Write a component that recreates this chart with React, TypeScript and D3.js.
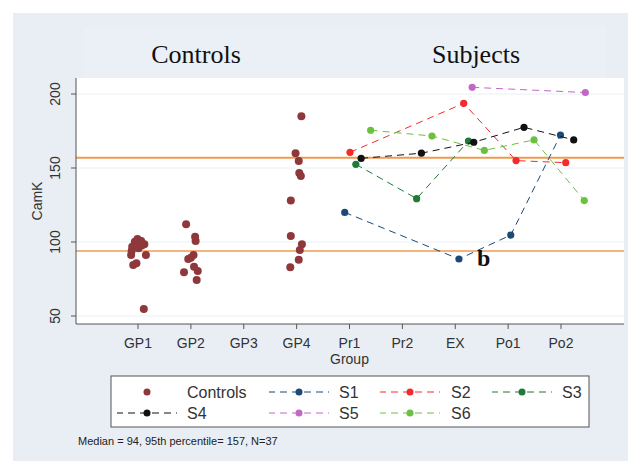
import React from 'react'
import * as d3 from 'd3'

// categories on the x axis
const groups = ['GP1', 'GP2', 'GP3', 'GP4', 'Pr1', 'Pr2', 'EX', 'Po1', 'Po2']
const yTicks = [50, 100, 150, 200]

// control values, x is group index + jitter
const controlsX = [
  -0.01, 0.06, 0.12, -0.06, -0.11, -0.12, -0.13, 0.01, 0.15, -0.09, -0.03, 0.07, 0.11,
  0.91, 1.08, 1.09, 1.05, 0.95, 1.06, 1.13, 0.87, 1.11, 1.0,
  3.09, 2.98, 3.04, 3.05, 3.08, 2.89, 2.89, 3.1, 3.06, 3.04, 2.88,
]
const controlsY = [
  102, 100.7, 98.4, 100.2, 96.8, 93.9, 91.2, 95.7, 91.2, 84.5, 85.6, 97.6, 54.7,
  112, 103.6, 100.7, 91.2, 88.5, 83.3, 80.4, 79.5, 74.3, 89.4,
  185, 160, 154.7, 146.6, 144.6, 128, 104, 98.4, 94.6, 88, 83,
]

// subjects
const seriesNames = ['S1', 'S2', 'S3', 'S4', 'S5', 'S6']
const s1X = [3.91, 6.07, 7.05, 7.99]
const s1Y = [120, 88.5, 104.7, 172.3]
const s2X = [4.01, 6.16, 7.15, 8.09]
const s2Y = [160.6, 193.7, 155, 153.6]
const s3X = [4.12, 5.27, 6.25]
const s3Y = [152.5, 129.3, 168.2]
const s4X = [4.22, 5.36, 6.35, 7.3, 8.24]
const s4Y = [156.5, 160, 167.4, 177.5, 169]
const s5X = [6.32, 8.46]
const s5Y = [204.5, 201]
const s6X = [4.4, 5.56, 6.55, 7.49, 8.44]
const s6Y = [175.5, 171.6, 161.9, 169, 128]

const median = 94
const p95 = 157

const seriesColors = ['#1b4a78', '#f52a2a', '#1e7a36', '#111111', '#c466c4', '#6cc040']
const controlColor = '#8e383b'

const sans = 'Liberation Sans, Arial, sans-serif'
const serif = 'Liberation Serif, Times New Roman, serif'

export default function App() {
  const W = 628
  const H = 461
  const plot = { left: 76, right: 624, top: 78, bottom: 324 }

  const x = d3.scaleLinear().domain([0, 8]).range([138, 561])
  const y = d3.scaleLinear().domain([50, 200]).range([316, 94])

  const seriesX = [s1X, s2X, s3X, s4X, s5X, s6X]
  const seriesY = [s1Y, s2Y, s3Y, s4Y, s5Y, s6Y]
  const line = d3.line<[number, number]>().x(d => x(d[0])).y(d => y(d[1]))

  // legend layout
  const legendCols = [147, 299, 410, 522]
  const legendTextX = [187, 339, 451, 562]
  const legendRows = [392, 413]
  const legendItems = [{ name: 'Controls', color: controlColor, line: false }].concat(
    seriesNames.map((n, i) => ({ name: n, color: seriesColors[i], line: true }))
  )

  return (
    <svg width={W} height={H} style={{ position: 'absolute', left: 0, top: 0 }}>
      <rect x={0} y={0} width={W} height={H} fill="#ffffff" />
      <rect x={13} y={13} width={W - 13} height={H - 13} fill="#e8eef3" />
      <rect x={84} y={27} width={522} height={51} fill="#eaf0f6" />

      <text x={196} y={63} textAnchor="middle" fontFamily={serif} fontSize={26} fill="#111">Controls</text>
      <text x={476} y={63} textAnchor="middle" fontFamily={serif} fontSize={26} fill="#111">Subjects</text>

      <rect x={plot.left} y={plot.top} width={plot.right - plot.left} height={plot.bottom - plot.top} fill="#ffffff" />

      {/* grid */}
      {yTicks.map(t => (
        <line key={'g' + t} x1={plot.left} x2={plot.right} y1={y(t)} y2={y(t)} stroke="#eaf0f4" strokeWidth={1} />
      ))}

      {/* reference lines */}
      <line x1={plot.left} x2={plot.right} y1={y(p95)} y2={y(p95)} stroke="#ef9a4e" strokeWidth={2} />
      <line x1={plot.left} x2={plot.right} y1={y(median)} y2={y(median)} stroke="#ef9a4e" strokeWidth={1.5} />

      {/* axes */}
      <line x1={plot.left} x2={plot.left} y1={plot.top} y2={plot.bottom} stroke="#555" strokeWidth={1} />
      <line x1={plot.left} x2={plot.right} y1={plot.bottom} y2={plot.bottom} stroke="#555" strokeWidth={1} />
      {yTicks.map(t => (
        <g key={'y' + t}>
          <line x1={plot.left - 5} x2={plot.left} y1={y(t)} y2={y(t)} stroke="#555" />
          <text
            transform={`translate(${60},${y(t)}) rotate(-90)`}
            textAnchor="middle"
            fontFamily={sans}
            fontSize={14}
            fill="#333"
          >
            {t}
          </text>
        </g>
      ))}
      <text transform={`translate(42,${(plot.top + plot.bottom) / 2}) rotate(-90)`} textAnchor="middle" fontFamily={sans} fontSize={14} fill="#333">
        CamK
      </text>
      {groups.map((g, i) => (
        <g key={g}>
          <line x1={x(i)} x2={x(i)} y1={plot.bottom} y2={plot.bottom + 5} stroke="#555" />
          <text x={x(i)} y={348} textAnchor="middle" fontFamily={sans} fontSize={14} fill="#333">{g}</text>
        </g>
      ))}
      <text x={(x(0) + x(8)) / 2} y={364} textAnchor="middle" fontFamily={sans} fontSize={14} fill="#333">Group</text>

      {/* controls */}
      {controlsX.map((cx, i) => (
        <circle key={'c' + i} cx={x(cx)} cy={y(controlsY[i])} r={4} fill={controlColor} />
      ))}

      {/* subjects */}
      {seriesX.map((sx, s) => {
        const pts = sx.map((v, i) => [v, seriesY[s][i]] as [number, number])
        return (
          <g key={'s' + s}>
            <path d={line(pts) || ''} fill="none" stroke={seriesColors[s]} strokeWidth={1} strokeDasharray="7,5" />
            {pts.map((p, i) => (
              <circle key={i} cx={x(p[0])} cy={y(p[1])} r={3.6} fill={seriesColors[s]} />
            ))}
          </g>
        )
      })}

      <text x={477} y={266} fontFamily={serif} fontWeight="bold" fontSize={24} fill="#111">b</text>

      {/* legend */}
      <rect x={111} y={376} width={478} height={51} fill="#ffffff" stroke="#555" strokeWidth={1} />
      {legendItems.map((it, i) => {
        const col = i % 4
        const row = Math.floor(i / 4)
        const cx = legendCols[col]
        const cy = legendRows[row]
        return (
          <g key={it.name}>
            {it.line && (
              <line x1={cx - 30} x2={cx + 30} y1={cy} y2={cy} stroke={it.color} strokeWidth={1} strokeDasharray="7,5" strokeDashoffset={1} />
            )}
            <circle cx={cx} cy={cy} r={3.5} fill={it.color} />
            <text x={legendTextX[col]} y={cy + 6} fontFamily={sans} fontSize={16} fill="#333">{it.name}</text>
          </g>
        )
      })}

      <text x={78} y={445} fontFamily={sans} fontSize={11} fill="#222">
        Median = {median}, 95th percentile= {p95}, N=37
      </text>
    </svg>
  )
}
